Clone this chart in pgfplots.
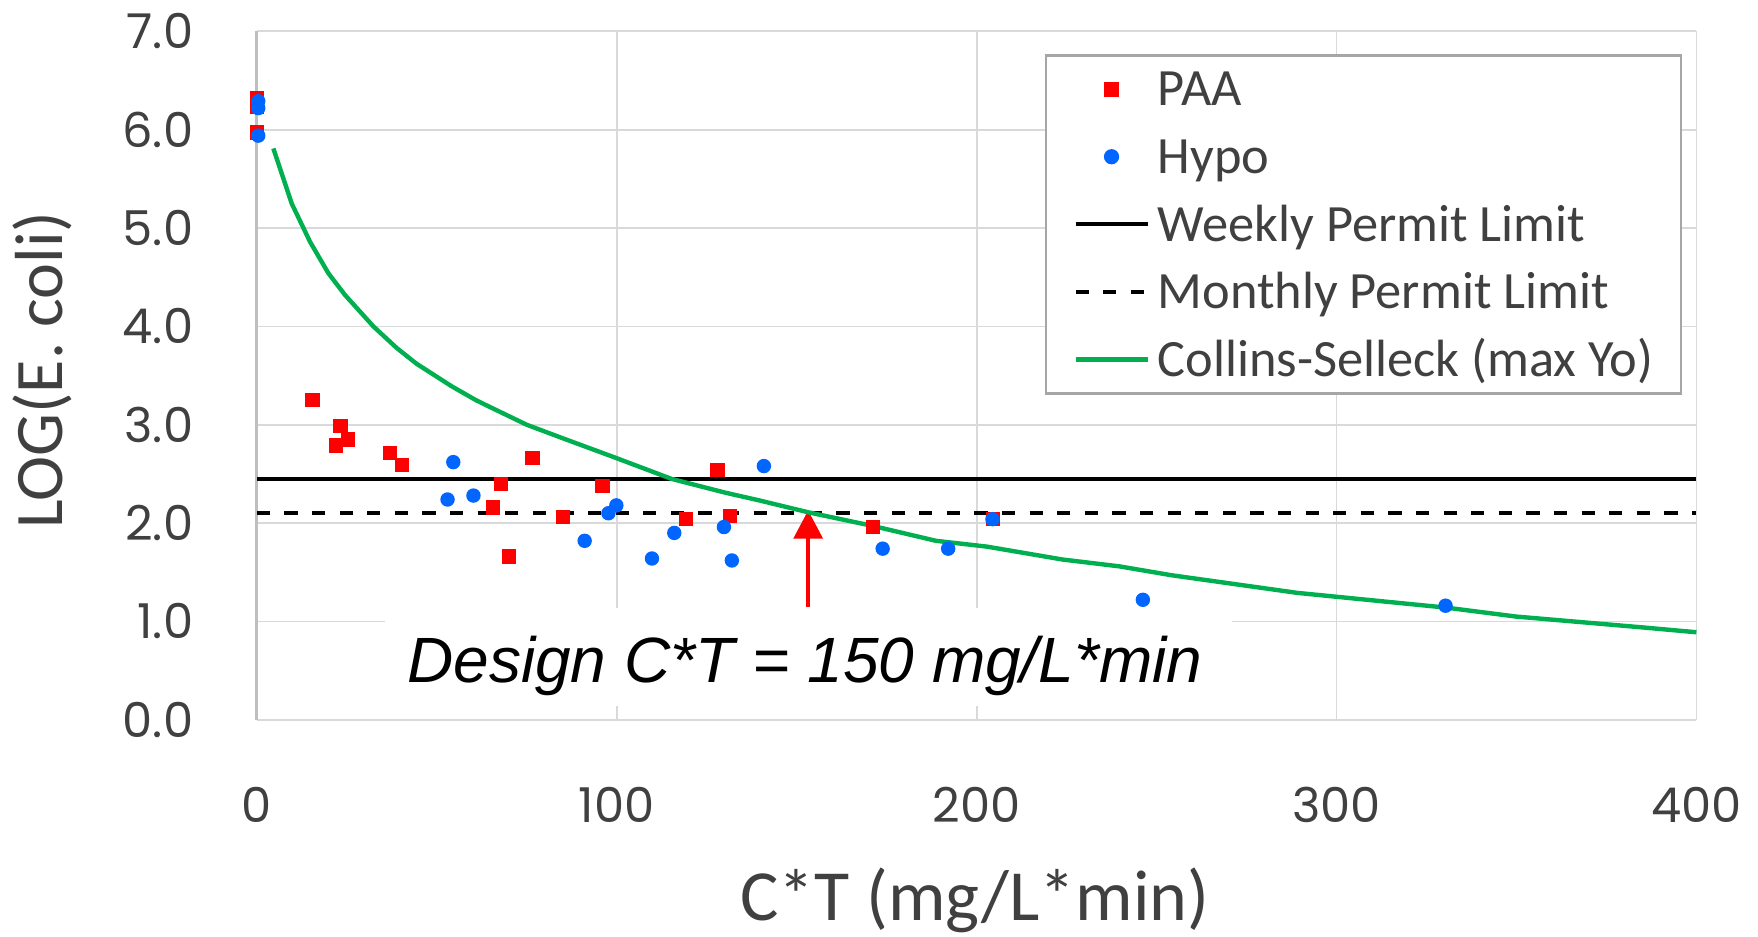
\documentclass[border=0pt]{standalone}
\usepackage{fontspec}
\setmainfont{Carlito}
\newfontfamily\tickfont{Poppins}
\newfontfamily\designfont{Liberation Sans}
\usepackage{pgfplots}
\pgfplotsset{compat=1.18}
\usetikzlibrary{arrows.meta}
\definecolor{paared}{HTML}{FF0000}
\definecolor{hypoblue}{HTML}{0066FF}
\definecolor{csgreen}{HTML}{00B050}
\definecolor{gridgray}{HTML}{D9D9D9}
\definecolor{axisgray}{HTML}{BFBFBF}
\definecolor{txtgray}{HTML}{404040}
\definecolor{legborder}{HTML}{A6A6A6}

\begin{document}
\begin{tikzpicture}
\begin{axis}[
  scale only axis,
  width=359.9pt, height=172.1pt,
  xmin=0, xmax=400, ymin=0, ymax=7,
  xtick={0,100,...,400}, ytick={0,1,...,7},
  clip=false,
  grid=major,
  grid style={draw=gridgray, line width=0.45pt},
  extra x ticks={0}, extra x tick labels={},
  extra x tick style={grid style={draw=axisgray, line width=0.7pt}},
  axis line style={draw=none},
  major tick length=0pt,
  tick style={draw=none},
  /pgf/number format/assume math mode=true,
  ticklabel style={font=\tickfont\fontsize{12}{12}\selectfont, text=txtgray},
  xticklabel style={anchor=center, inner sep=0pt, yshift=-21.3pt},
  yticklabel style={anchor=east, inner sep=0pt, xshift=-15.7pt,
    /pgf/number format/.cd, fixed, fixed zerofill, precision=1},
  every axis x label/.style={at={(axis description cs:0.499,-0.262)}, anchor=center},
  every axis y label/.style={at={(axis description cs:-0.149,0.508)}, anchor=center, rotate=90},
  label style={text=txtgray},
  x label style={font=\fontsize{18}{18}\selectfont},
  y label style={font=\fontsize{17}{17}\selectfont},
  xlabel={C*T (mg/L*min)},
  ylabel={LOG(E. coli)},
  legend style={at={(0.99,0.967)}, anchor=north east, draw=legborder, line width=0.6pt,
    fill=white, font=\fontsize{13.1}{13.1}\selectfont, text=txtgray,
    inner xsep=6.8pt, inner ysep=0pt, row sep=0pt,
    nodes={inner sep=0pt, text height=12.65pt, text depth=4.25pt}},
  legend cell align=left,
  legend image code/.code={\draw[mark repeat=2,mark phase=2,#1] plot coordinates {(0pt,0pt) (9pt,0pt) (18pt,0pt)};\path (20pt,0pt);},
]
\coordinate (sw) at (rel axis cs:0,0);
\coordinate (ne) at (rel axis cs:1,1);

% label box over the grid
\node[fill=white, inner sep=0pt, minimum width=211.8pt, minimum height=24.6pt] at (axis cs:153.3,0.64) {};
\node[anchor=base, inner sep=0pt, font=\designfont\itshape\fontsize{16}{16}\selectfont] at (axis cs:152.3,0.384) {Design C*T = 150 mg/L*min};
\draw[paared, line width=1pt, -{Triangle[width=7.2pt,length=7.1pt]}] (axis cs:153.2,1.15) -- (axis cs:153.2,2.13);

\addlegendimage{only marks, mark=square*, mark size=1.6pt, color=paared}
\addlegendentry{PAA}
\addlegendimage{only marks, mark=*, mark size=1.6pt, color=hypoblue}
\addlegendentry{Hypo}
\addlegendimage{black, line width=1pt}
\addlegendentry{Weekly Permit Limit}
\addlegendimage{black, line width=1pt, dash pattern=on 3.3pt off 3.6pt}
\addlegendentry{Monthly Permit Limit}
\addlegendimage{csgreen, line width=1.1pt}
\addlegendentry{Collins-Selleck (max Yo)}

% permit limits
\addplot[forget plot, black, line width=1pt] coordinates {(0,2.453) (400,2.453)};
\addplot[forget plot, black, line width=1pt, dash pattern=on 3.3pt off 3.6pt] coordinates {(0,2.1) (400,2.1)};

% Collins-Selleck curve
\addplot[forget plot, csgreen, line width=1.1pt] coordinates {
  (4.6,5.81) (9.7,5.25) (14.8,4.86) (19.9,4.54) (24.5,4.32) (32.4,4.00)
  (38.9,3.78) (44.4,3.62) (54.2,3.39) (60.9,3.25) (64.8,3.18) (75,3.00)
  (85.2,2.86) (100,2.66) (115.2,2.45) (130.1,2.31) (139.7,2.23) (153.2,2.11)
  (171.3,1.97) (188.7,1.82) (203,1.76) (223.8,1.63) (239.7,1.56) (254.1,1.47)
  (289.2,1.29) (330.6,1.14) (349.8,1.05) (384.8,0.94) (400,0.89)};

% PAA
\addplot[forget plot, only marks, mark=square*, mark size=1.6pt, color=paared] coordinates {
  (0,6.32) (0,6.23) (0,5.97)
  (15.5,3.25) (23.3,2.99) (22.0,2.79) (25.4,2.85) (37.0,2.71) (40.4,2.59)
  (67.8,2.40) (65.6,2.16) (70.1,1.66) (76.6,2.66) (85.0,2.06) (96.1,2.38)
  (119.3,2.04) (128.0,2.54) (131.4,2.07) (171.2,1.96) (204.6,2.04)};

% Hypo
\addplot[forget plot, only marks, mark=*, mark size=1.6pt, color=hypoblue] coordinates {
  (0.4,6.29) (0.4,6.22) (0.4,5.94)
  (54.6,2.62) (53.0,2.24) (60.2,2.28) (91.1,1.82) (97.7,2.10) (99.9,2.18)
  (109.8,1.64) (116.0,1.90) (129.8,1.96) (132.0,1.62) (140.9,2.58)
  (173.9,1.74) (192.1,1.74) (204.4,2.04) (246.2,1.22) (330.3,1.16)};
\end{axis}
\pgfresetboundingbox
\path[use as bounding box] ([xshift=-64.2pt,yshift=-54.3pt]sw) rectangle ([xshift=15.4pt,yshift=7.85pt]ne);
\end{tikzpicture}
\end{document}
